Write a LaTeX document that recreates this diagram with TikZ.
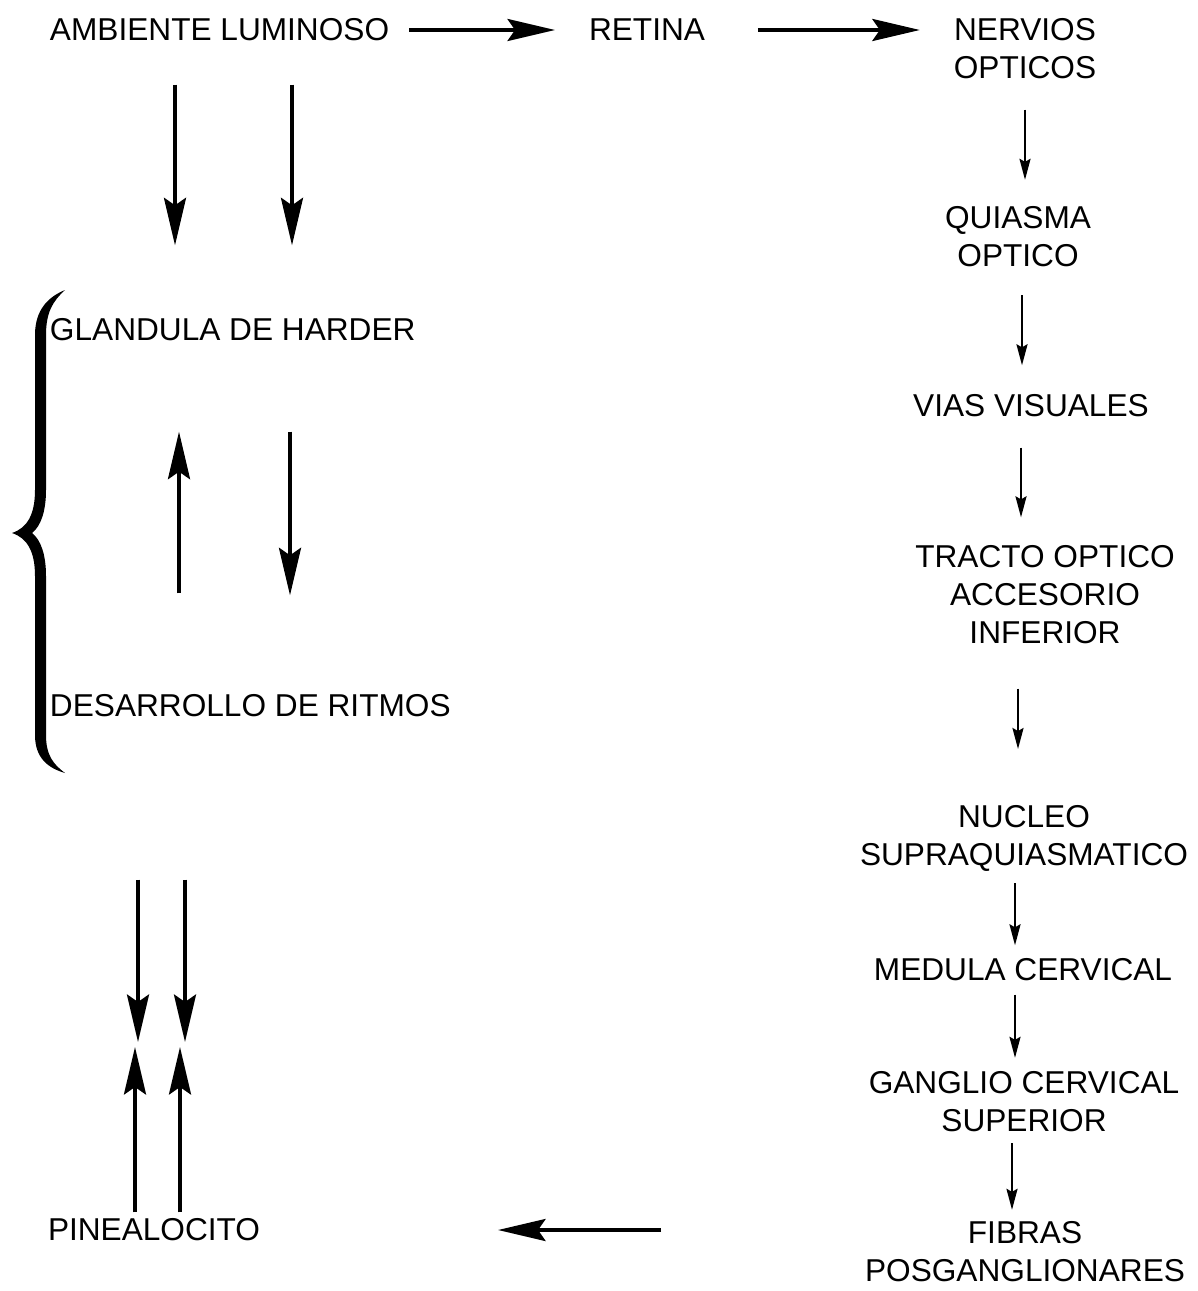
\documentclass[tikz,border=0pt]{standalone}
\usepackage{fontspec}
\setmainfont{Liberation Sans}
\usetikzlibrary{arrows.meta,calc}
\tikzset{
  lbl/.style={inner sep=0pt, outer sep=0pt, font=\fontsize{18}{21.6}\selectfont, align=center},
  bigarrow/.style={line width=2.2pt, -{Stealth[length=0.95cm,width=0.44cm,inset=0.15cm]}},
  thinarrow/.style={line width=1.3pt, -{Stealth[length=0.42cm,width=0.22cm,inset=0.06cm]}}
}
\begin{document}
\begin{tikzpicture}[x=0.02cm, y=-0.02cm]
\useasboundingbox (0,0) rectangle (1197,1291);
\node[lbl, anchor=west] (amb) at (50,30) {AMBIENTE LUMINOSO};
\node[lbl] (ret) at (647,30) {RETINA};
\node[lbl] (nerv) at (1025,49) {NERVIOS\\OPTICOS};
\node[lbl] (quia) at (1018,236.5) {QUIASMA\\OPTICO};
\node[lbl] (vias) at (1031,406) {VIAS VISUALES};
\node[lbl] (tract) at (1045,595) {TRACTO OPTICO\\ACCESORIO\\INFERIOR};
\node[lbl] (nucl) at (1024,838.5) {NUCLEO\\SUPRAQUIASMATICO};
\node[lbl] (medu) at (1023,970) {MEDULA CERVICAL};
\node[lbl] (gang) at (1024,1101.5) {GANGLIO CERVICAL\\SUPERIOR};
\node[lbl] (fibr) at (1025,1251.5) {FIBRAS\\POSGANGLIONARES};
\node[lbl, anchor=west] (gland) at (50,330) {GLANDULA DE HARDER};
\node[lbl, anchor=west] (desa) at (50,706) {DESARROLLO DE RITMOS};
\node[lbl, anchor=west] (pine) at (48,1230) {PINEALOCITO};
\coordinate (ga) at (175,0);
\coordinate (gb) at (292,0);
\coordinate (ua) at (179,0);
\coordinate (ub) at (290,0);
\coordinate (pa) at (138,0);
\coordinate (pb) at (185,0);
\coordinate (pc) at (135,0);
\coordinate (pd) at (180,0);
\coordinate (meet) at (0,1044);
\draw[bigarrow, shorten <=0.4cm, shorten >=0.68cm] (amb.east) -- (ret.west);
\draw[bigarrow, shorten <=1.06cm, shorten >=0.68cm] (ret.east) -- (ret.east -| nerv.west);
\draw[bigarrow, shorten <=4.08cm, shorten >=4.76cm] (fibr.west |- pine.east) -- (pine.east);
\foreach \c in {ga,gb}
  \draw[bigarrow, shorten <=0.87cm, shorten >=1.47cm] (\c |- amb.south) -- (\c |- gland.north);
\draw[bigarrow, shorten <=2.03cm, shorten >=1.81cm] (ua |- desa.north) -- (ua |- gland.south);
\draw[bigarrow, shorten <=1.81cm, shorten >=1.99cm] (ub |- gland.south) -- (ub |- desa.north);
\foreach \c in {pa,pb}
  \draw[bigarrow, shorten <=3.25cm, shorten >=0.04cm] (\c |- desa.south) -- (\c |- meet);
\foreach \c in {pc,pd}
  \draw[bigarrow, shorten <=0.13cm, shorten >=0.06cm] (\c |- pine.north) -- (\c |- meet);
\foreach \a/\b/\d/\s/\t in {nerv/quia/0/0.61/0.53, quia/vias/4/0.57/0.59, vias/tract/-10/0.61/0.57,
    tract/nucl/-27/0.89/1.13, nucl/medu/-9/0.23/0.27, medu/gang/-8/0.27/0.27, gang/fibr/-12/0.23/0.23}
  \draw[thinarrow, shorten <=\s cm, shorten >=\t cm] ($(\a.south)+(\d,0)$) -- ($(\a.south |- \b.north)+(\d,0)$);
\fill (65,290) .. controls (48,297) and (35,310) .. (35,335) -- (35,490)
  .. controls (35,515) and (27,528) .. (12,533) .. controls (27,538) and (35,551) .. (35,576)
  -- (35,735) .. controls (35,758) and (48,768) .. (65,773)
  .. controls (53,764) and (46,755) .. (46,735) -- (46,576)
  .. controls (46,555) and (41,540) .. (32,533) .. controls (41,526) and (46,511) .. (46,490)
  -- (46,335) .. controls (46,312) and (53,301) .. (65,290) -- cycle;
\end{tikzpicture}
\end{document}
